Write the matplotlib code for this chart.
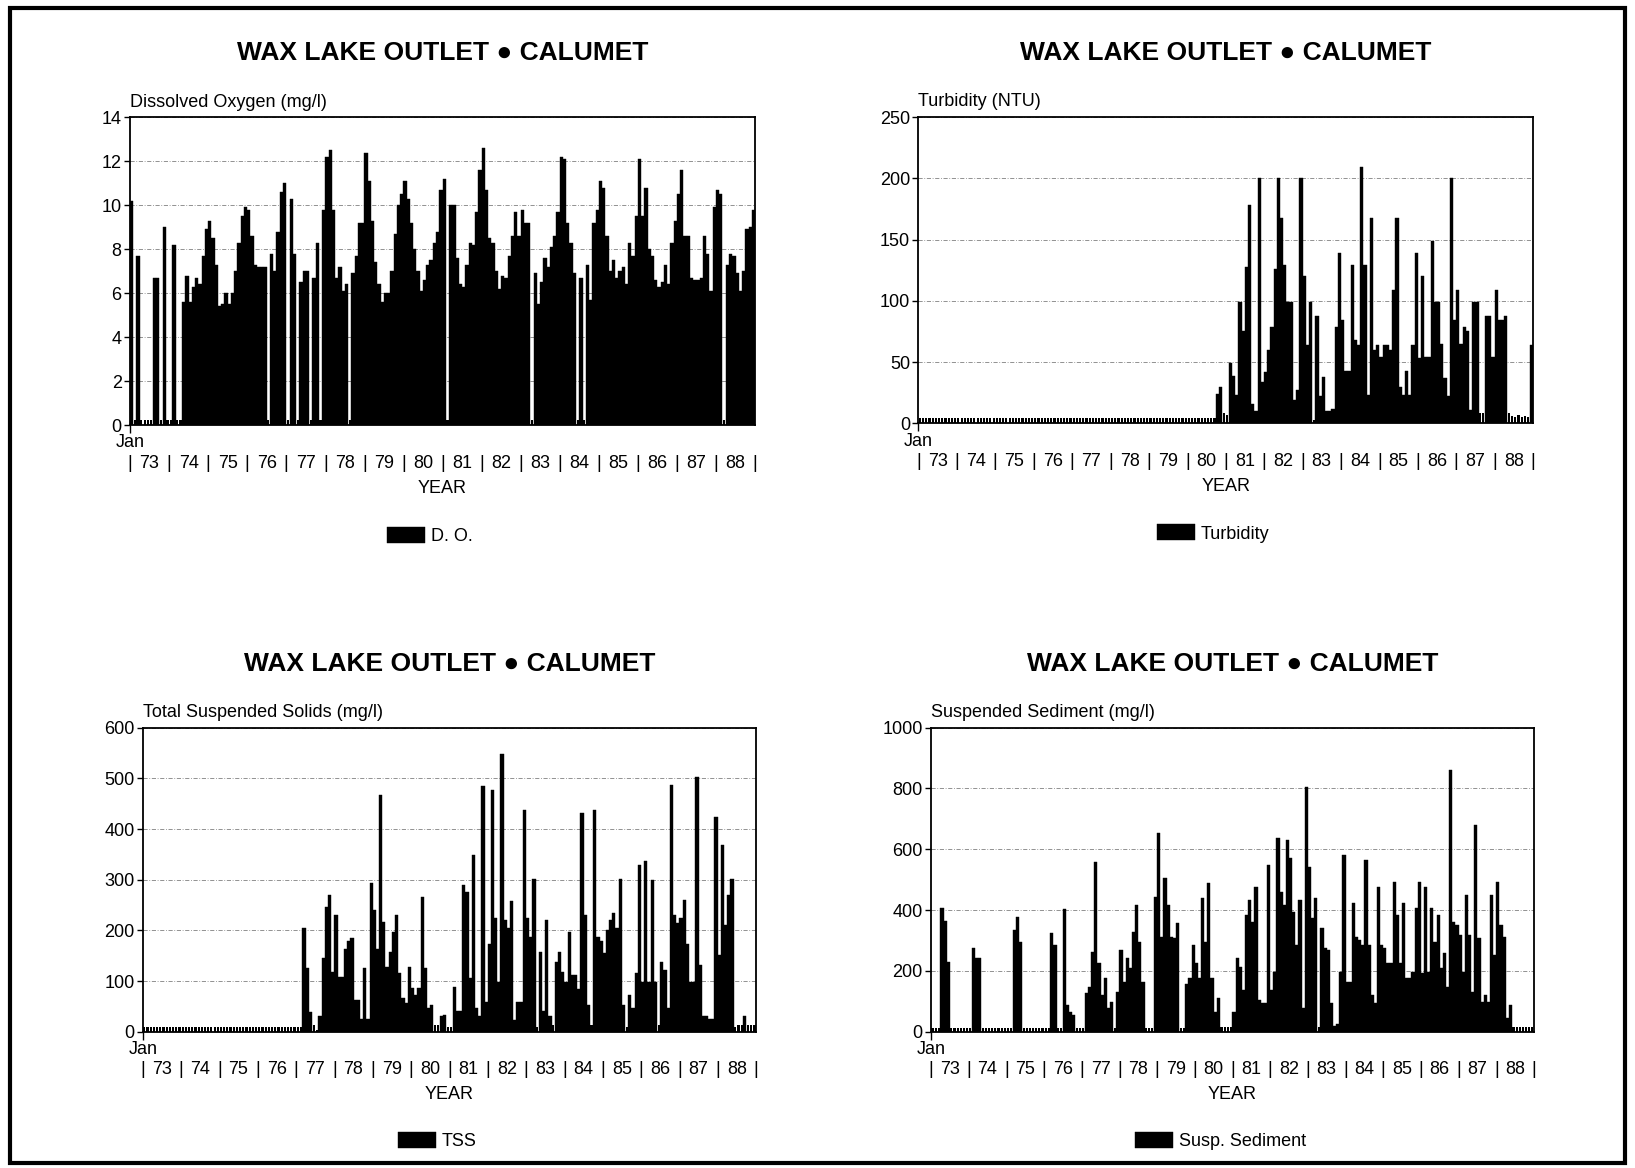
import numpy as np
import matplotlib
matplotlib.use("Agg")
import matplotlib.pyplot as plt
from matplotlib.patches import Rectangle
from matplotlib.transforms import blended_transform_factory

plt.rcParams['font.family'] = ['Liberation Sans', 'DejaVu Sans']

# Monthly samples, Jan 1973 .. Dec 1988 (one row per year)
year_labels = ['73', '74', '75', '76', '77', '78', '79', '80',
               '81', '82', '83', '84', '85', '86', '87', '88']

dissolved_oxygen = [
    10.2, 0.25, 7.7, 0.25, 0.25, 0.25, 0.25, 6.7, 6.7, 0.25, 9.0, 0.25,
    0.25, 8.2, 0.25, 0.25, 5.6, 6.8, 5.6, 6.3, 6.7, 6.4, 7.7, 8.9,
    9.3, 8.5, 7.3, 5.4, 5.5, 6.0, 5.5, 6.0, 7.0, 8.3, 9.5, 9.9,
    9.8, 8.6, 7.3, 7.2, 7.2, 7.2, 0.25, 7.8, 7.0, 8.8, 10.6, 11.0,
    0.25, 10.3, 7.8, 0.25, 6.5, 7.0, 7.0, 0.25, 6.7, 8.3, 0.25, 9.8,
    12.2, 12.5, 9.8, 6.7, 7.2, 6.1, 6.4, 0.25, 6.9, 7.7, 9.2, 9.2,
    12.4, 11.1, 9.3, 7.4, 6.4, 5.6, 6.0, 6.0, 7.0, 8.7, 10.0, 10.5,
    11.1, 10.3, 9.2, 8.0, 7.0, 6.1, 6.6, 7.3, 7.5, 8.3, 8.8, 10.7,
    11.2, 0.25, 10.0, 10.0, 7.6, 6.4, 6.3, 7.3, 8.3, 8.2, 9.7, 11.6,
    12.6, 10.7, 8.5, 8.3, 7.0, 6.2, 6.8, 6.7, 7.7, 8.6, 9.7, 8.6,
    9.8, 9.2, 9.2, 0.25, 6.9, 5.5, 6.5, 7.6, 7.2, 8.1, 8.6, 9.7,
    12.2, 12.1, 9.2, 8.3, 6.9, 0.25, 6.7, 0.25, 7.3, 5.7, 9.2, 9.8,
    11.1, 10.8, 8.6, 7.0, 7.5, 6.7, 7.0, 7.2, 6.4, 8.3, 7.7, 9.5,
    12.1, 9.5, 10.8, 8.0, 7.7, 6.6, 6.3, 6.5, 7.3, 6.4, 8.3, 9.3,
    10.5, 11.6, 8.6, 8.6, 6.7, 6.6, 6.6, 6.7, 8.6, 7.8, 6.1, 9.9,
    10.7, 10.5, 0.25, 7.3, 7.8, 7.7, 6.9, 6.1, 7.0, 8.9, 9.0, 9.8,
]

turbidity = [
    4, 4, 4, 4, 4, 4, 4, 4, 4, 4, 4, 4,
    4, 4, 4, 4, 4, 4, 4, 4, 4, 4, 4, 4,
    4, 4, 4, 4, 4, 4, 4, 4, 4, 4, 4, 4,
    4, 4, 4, 4, 4, 4, 4, 4, 4, 4, 4, 4,
    4, 4, 4, 4, 4, 4, 4, 4, 4, 4, 4, 4,
    4, 4, 4, 4, 4, 4, 4, 4, 4, 4, 4, 4,
    4, 4, 4, 4, 4, 4, 4, 4, 4, 4, 4, 4,
    4, 4, 4, 4, 4, 4, 4, 4, 4, 24, 30, 8,
    7, 49, 39, 23, 99, 75, 128, 178, 16, 10, 200, 34,
    42, 60, 79, 126, 200, 168, 129, 99, 99, 19, 27, 200,
    120, 64, 99, 3, 88, 22, 38, 10, 10, 12, 79, 139,
    84, 43, 43, 129, 68, 64, 209, 129, 23, 168, 60, 64,
    54, 64, 64, 60, 109, 168, 30, 23, 43, 23, 64, 139,
    53, 120, 54, 54, 149, 99, 99, 65, 37, 22, 200, 84,
    109, 65, 79, 75, 11, 99, 99, 8, 8, 88, 88, 54,
    109, 84, 84, 88, 8, 6, 5, 7, 5, 6, 5, 64,
]

tss = [
    9, 9, 9, 9, 9, 9, 9, 9, 9, 9, 9, 9,
    9, 9, 9, 9, 9, 9, 9, 9, 9, 9, 9, 9,
    9, 9, 9, 9, 9, 9, 9, 9, 9, 9, 9, 9,
    9, 9, 9, 9, 9, 9, 9, 9, 9, 9, 9, 9,
    9, 9, 204, 125, 39, 13, 3, 30, 145, 247, 270, 118,
    230, 108, 108, 164, 178, 184, 62, 62, 26, 125, 26, 293,
    240, 164, 467, 217, 128, 158, 197, 230, 115, 66, 56, 128,
    86, 72, 86, 266, 125, 46, 53, 13, 13, 30, 33, 10,
    10, 89, 40, 40, 289, 276, 105, 349, 46, 30, 484, 59,
    174, 477, 224, 99, 549, 220, 204, 257, 23, 59, 59, 437,
    224, 187, 302, 10, 158, 40, 220, 30, 13, 138, 158, 118,
    99, 197, 112, 112, 85, 431, 230, 53, 13, 437, 187, 178,
    155, 201, 220, 234, 204, 302, 53, 10, 72, 46, 115, 329,
    99, 336, 99, 299, 99, 13, 138, 122, 46, 487, 230, 214,
    224, 260, 174, 99, 99, 503, 132, 30, 30, 26, 26, 424,
    151, 368, 210, 270, 302, 10, 13, 13, 30, 13, 13, 13,
]

susp_sediment = [
    12, 12, 12, 408, 364, 230, 12, 12, 12, 12, 12, 12,
    12, 274, 243, 241, 12, 12, 12, 12, 12, 12, 12, 12,
    12, 12, 334, 378, 296, 12, 12, 12, 12, 12, 12, 12,
    12, 12, 323, 285, 12, 12, 403, 88, 66, 55, 12, 12,
    12, 126, 148, 263, 559, 225, 121, 175, 77, 99, 12, 132,
    269, 164, 241, 208, 329, 417, 296, 164, 12, 12, 12, 444,
    652, 312, 504, 417, 312, 307, 356, 12, 12, 156, 175, 285,
    225, 175, 439, 296, 488, 175, 66, 110, 14, 14, 14, 14,
    66, 241, 213, 137, 384, 432, 362, 476, 104, 93, 93, 548,
    137, 197, 636, 460, 417, 630, 570, 395, 285, 432, 77, 806,
    543, 373, 439, 14, 340, 274, 268, 93, 20, 25, 197, 581,
    164, 164, 422, 312, 300, 285, 565, 285, 121, 93, 476, 285,
    274, 225, 225, 493, 384, 225, 422, 175, 175, 197, 406, 493,
    192, 476, 197, 406, 296, 384, 208, 258, 148, 861, 362, 351,
    318, 197, 450, 318, 132, 680, 307, 99, 121, 99, 450, 252,
    493, 351, 312, 44, 88, 14, 14, 14, 14, 14, 14, 14,
]

TITLE = 'WAX LAKE OUTLET \u25CF CALUMET'
FS = 13

fig = plt.figure(figsize=(16.35, 11.68), dpi=100)

# axes rectangles [left, bottom, width, height] in figure fractions
rects = [
    [0.0795, 0.6361, 0.3823, 0.2634],
    [0.5617, 0.6376, 0.3759, 0.2620],
    [0.0873, 0.1167, 0.3751, 0.2603],
    [0.5694, 0.1167, 0.3688, 0.2603],
]

panels = [
    (dissolved_oxygen, 0.3, 14, 2, 'Dissolved Oxygen (mg/l)', 'D. O.'),
    (turbidity, 8, 250, 50, 'Turbidity (NTU)', 'Turbidity'),
    (tss, 13, 600, 100, 'Total Suspended Solids (mg/l)', 'TSS'),
    (susp_sediment, 14, 1000, 200, 'Suspended Sediment (mg/l)', 'Susp. Sediment'),
]


def draw_panel(ax, vals, floor, ymax, ystep, ylabel, leg_label):
    vals = np.asarray(vals, dtype=float)
    n = len(vals)
    x = np.arange(n) + 0.5
    low = vals <= floor
    ax.bar(x[~low], vals[~low], width=1.0, color='black', edgecolor='black',
           linewidth=0.3, zorder=3, label=leg_label)
    ax.bar(x[low], vals[low], width=0.68, color='black', linewidth=0, zorder=3)

    ax.set_xlim(0, n)
    ax.set_ylim(0, ymax)
    ax.set_yticks(np.arange(0, ymax + ystep, ystep))
    ax.set_xticks([0])
    ax.set_xticklabels([''])
    ax.tick_params(axis='y', direction='out', length=4, width=1.0,
                   labelsize=FS, pad=2)
    ax.tick_params(axis='x', direction='out', length=6, width=1.0)
    for s in ax.spines.values():
        s.set_linewidth(1.3)
    ax.yaxis.grid(True, linestyle=(0, (5, 2, 1, 2)), color='#808080',
                  linewidth=0.6)
    ax.set_axisbelow(True)

    trans = blended_transform_factory(ax.transData, ax.transAxes)
    ax.text(0, -0.058, 'Jan', transform=trans, ha='center', va='center',
            fontsize=FS)
    for k, yl in enumerate(year_labels):
        ax.text(12 * k + 6, -0.125, yl, transform=trans, ha='center',
                va='center', fontsize=FS)
    for k in range(len(year_labels) + 1):
        ax.text(12 * k, -0.125, '|', transform=trans, ha='center',
                va='center', fontsize=FS, fontweight='light')
    ax.text(0.5, -0.207, 'YEAR', transform=ax.transAxes, ha='center',
            va='center', fontsize=FS)
    ax.text(0.0, 1.05, ylabel, transform=ax.transAxes, ha='left',
            va='center', fontsize=FS)
    ax.text(0.5, 1.21, TITLE, transform=ax.transAxes, ha='center',
            va='center', fontsize=19, fontweight='bold')
    ax.legend(loc='center', bbox_to_anchor=(0.48, -0.36), frameon=False,
              fontsize=FS, handlelength=2.1, handleheight=1.0,
              handletextpad=0.3)


for rect, spec in zip(rects, panels):
    ax = fig.add_axes(rect)
    draw_panel(ax, *spec)

# page border
fig.patches.append(Rectangle((0.0064, 0.0043), 0.9875, 0.9885,
                             transform=fig.transFigure, fill=False,
                             edgecolor='black', linewidth=3.0))

fig.savefig('out.png', dpi=100, facecolor='white')
